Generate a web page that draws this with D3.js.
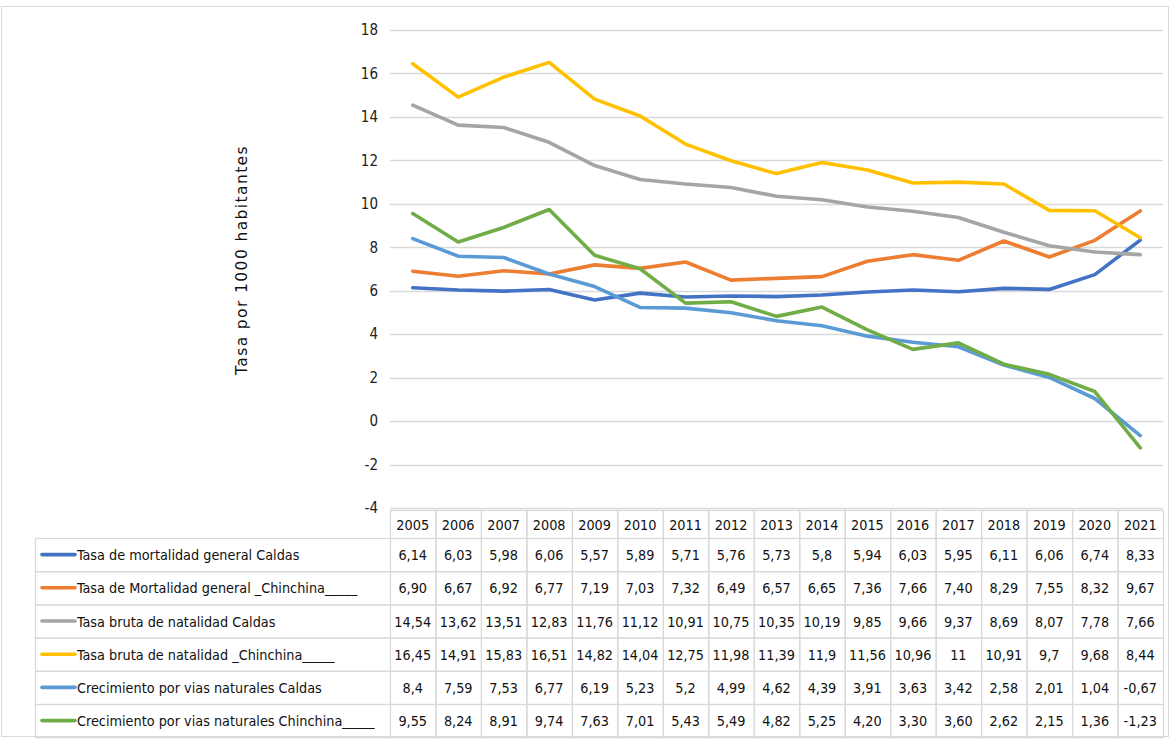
<!DOCTYPE html>
<html>
<head>
<meta charset="utf-8">
<script src="https://cdn.jsdelivr.net/npm/d3@7"></script>
<style>
  html, body { margin: 0; padding: 0; background: #fff; }
  svg { display: block; }
</style>
</head>
<body>
<svg id="chart" width="1171" height="739"></svg>
<script>
const years = ["2005","2006","2007","2008","2009","2010","2011","2012","2013","2014","2015","2016","2017","2018","2019","2020","2021"];

const seriesNames = [
  "Tasa de mortalidad general Caldas",
  "Tasa de Mortalidad general _Chinchina_____",
  "Tasa bruta de natalidad Caldas",
  "Tasa bruta de natalidad _Chinchina_____",
  "Crecimiento por vias naturales Caldas",
  "Crecimiento por vias naturales Chinchina_____"
];

const mortalidadCaldas = [6.14,6.03,5.98,6.06,5.57,5.89,5.71,5.76,5.73,5.8,5.94,6.03,5.95,6.11,6.06,6.74,8.33];
const mortalidadChinchina = [6.90,6.67,6.92,6.77,7.19,7.03,7.32,6.49,6.57,6.65,7.36,7.66,7.40,8.29,7.55,8.32,9.67];
const natalidadCaldas = [14.54,13.62,13.51,12.83,11.76,11.12,10.91,10.75,10.35,10.19,9.85,9.66,9.37,8.69,8.07,7.78,7.66];
const natalidadChinchina = [16.45,14.91,15.83,16.51,14.82,14.04,12.75,11.98,11.39,11.9,11.56,10.96,11,10.91,9.7,9.68,8.44];
const crecimientoCaldas = [8.4,7.59,7.53,6.77,6.19,5.23,5.2,4.99,4.62,4.39,3.91,3.63,3.42,2.58,2.01,1.04,-0.67];
const crecimientoChinchina = [9.55,8.24,8.91,9.74,7.63,7.01,5.43,5.49,4.82,5.25,4.20,3.30,3.60,2.62,2.15,1.36,-1.23];

// Table cell texts as printed (keeps the original decimal formatting)
const tableText = [
  ["6,14","6,03","5,98","6,06","5,57","5,89","5,71","5,76","5,73","5,8","5,94","6,03","5,95","6,11","6,06","6,74","8,33"],
  ["6,90","6,67","6,92","6,77","7,19","7,03","7,32","6,49","6,57","6,65","7,36","7,66","7,40","8,29","7,55","8,32","9,67"],
  ["14,54","13,62","13,51","12,83","11,76","11,12","10,91","10,75","10,35","10,19","9,85","9,66","9,37","8,69","8,07","7,78","7,66"],
  ["16,45","14,91","15,83","16,51","14,82","14,04","12,75","11,98","11,39","11,9","11,56","10,96","11","10,91","9,7","9,68","8,44"],
  ["8,4","7,59","7,53","6,77","6,19","5,23","5,2","4,99","4,62","4,39","3,91","3,63","3,42","2,58","2,01","1,04","-0,67"],
  ["9,55","8,24","8,91","9,74","7,63","7,01","5,43","5,49","4,82","5,25","4,20","3,30","3,60","2,62","2,15","1,36","-1,23"]
];

const yTicks = [-4,-2,0,2,4,6,8,10,12,14,16,18];
const colors = ["#4472C4","#ED7D31","#A5A5A5","#FFC000","#5B9BD5","#70AD47"];
const yTitle = "Tasa por 1000 habitantes";

const seriesValues = [mortalidadCaldas, mortalidadChinchina, natalidadCaldas, natalidadChinchina, crecimientoCaldas, crecimientoChinchina];

const svg = d3.select("#chart");
const font = "'DejaVu Sans Condensed', 'Liberation Sans Narrow', sans-serif";
const textSize = 14.3;

// outer frame
svg.append("rect")
  .attr("x", 1.5).attr("y", 6.5).attr("width", 1167).attr("height", 730)
  .attr("fill", "none").attr("stroke", "#d9d9d9").attr("stroke-width", 1);

const plot = { left: 390, right: 1163, top: 30, bottom: 508 };

const x = d3.scaleBand().domain(years).range([plot.left, plot.right]).padding(0);
const y = d3.scaleLinear().domain([-4, 18]).range([plot.bottom, plot.top]);

// gridlines
svg.append("g")
  .selectAll("line")
  .data(yTicks)
  .join("line")
  .attr("x1", plot.left).attr("x2", plot.right)
  .attr("y1", d => Math.round(y(d)) + 0.5).attr("y2", d => Math.round(y(d)) + 0.5)
  .attr("stroke", "#d9d9d9").attr("stroke-width", 1.3);

// y axis labels (plain hyphen for negatives)
const yAxis = d3.axisLeft(y).tickValues(yTicks).tickFormat(d => String(d)).tickSize(0).tickPadding(12);
const yg = svg.append("g").attr("transform", `translate(${plot.left},0)`).call(yAxis);
yg.select(".domain").remove();
yg.selectAll("text")
  .attr("font-family", font).attr("font-size", 15).attr("fill", "#222");

// y axis title
svg.append("text")
  .attr("transform", `translate(247,${260}) rotate(-90)`)
  .attr("text-anchor", "middle")
  .attr("font-family", "'DejaVu Sans', sans-serif")
  .attr("font-size", 15.5)
  .attr("letter-spacing", 1.4)
  .attr("fill", "#111")
  .text(yTitle);

// series lines
const line = d3.line()
  .x((d, i) => x(years[i]) + x.bandwidth() / 2)
  .y(d => y(d));

svg.append("g")
  .selectAll("path")
  .data(seriesValues)
  .join("path")
  .attr("d", d => line(d))
  .attr("fill", "none")
  .attr("stroke", (d, i) => colors[i])
  .attr("stroke-width", 3.6)
  .attr("stroke-linejoin", "round")
  .attr("stroke-linecap", "round");

// data table
const table = svg.append("g");
const headerTop = 510, headerH = 28, rowH = 33.2;
const legendLeft = 35;
const border = "#d9d9d9";

// header cells
years.forEach(yr => {
  table.append("rect")
    .attr("x", x(yr) + 0.5).attr("y", headerTop + 0.5)
    .attr("width", x.bandwidth()).attr("height", headerH)
    .attr("fill", "none").attr("stroke", border).attr("stroke-width", 1.2);
  table.append("text")
    .attr("x", x(yr) + x.bandwidth() / 2).attr("y", headerTop + headerH / 2 + 5.5)
    .attr("text-anchor", "middle")
    .attr("font-family", font).attr("font-size", textSize).attr("fill", "#111")
    .text(yr);
});

seriesNames.forEach((name, r) => {
  const top = headerTop + headerH + r * rowH;
  // legend cell
  table.append("rect")
    .attr("x", legendLeft + 0.5).attr("y", top + 0.5)
    .attr("width", plot.left - legendLeft).attr("height", rowH)
    .attr("fill", "none").attr("stroke", border).attr("stroke-width", 1.2);
  table.append("line")
    .attr("x1", legendLeft + 7).attr("x2", legendLeft + 40)
    .attr("y1", top + rowH / 2).attr("y2", top + rowH / 2)
    .attr("stroke", colors[r]).attr("stroke-width", 3.6).attr("stroke-linecap", "round");
  table.append("text")
    .attr("x", legendLeft + 42).attr("y", top + rowH / 2 + 5.5)
    .attr("font-family", font).attr("font-size", textSize).attr("fill", "#111")
    .text(name);
  years.forEach((yr, c) => {
    table.append("rect")
      .attr("x", x(yr) + 0.5).attr("y", top + 0.5)
      .attr("width", x.bandwidth()).attr("height", rowH)
      .attr("fill", "none").attr("stroke", border).attr("stroke-width", 1.2);
    table.append("text")
      .attr("x", x(yr) + x.bandwidth() / 2).attr("y", top + rowH / 2 + 5.5)
      .attr("text-anchor", "middle")
      .attr("font-family", font).attr("font-size", textSize).attr("fill", "#111")
      .text(tableText[r][c]);
  });
});
</script>
</body>
</html>
